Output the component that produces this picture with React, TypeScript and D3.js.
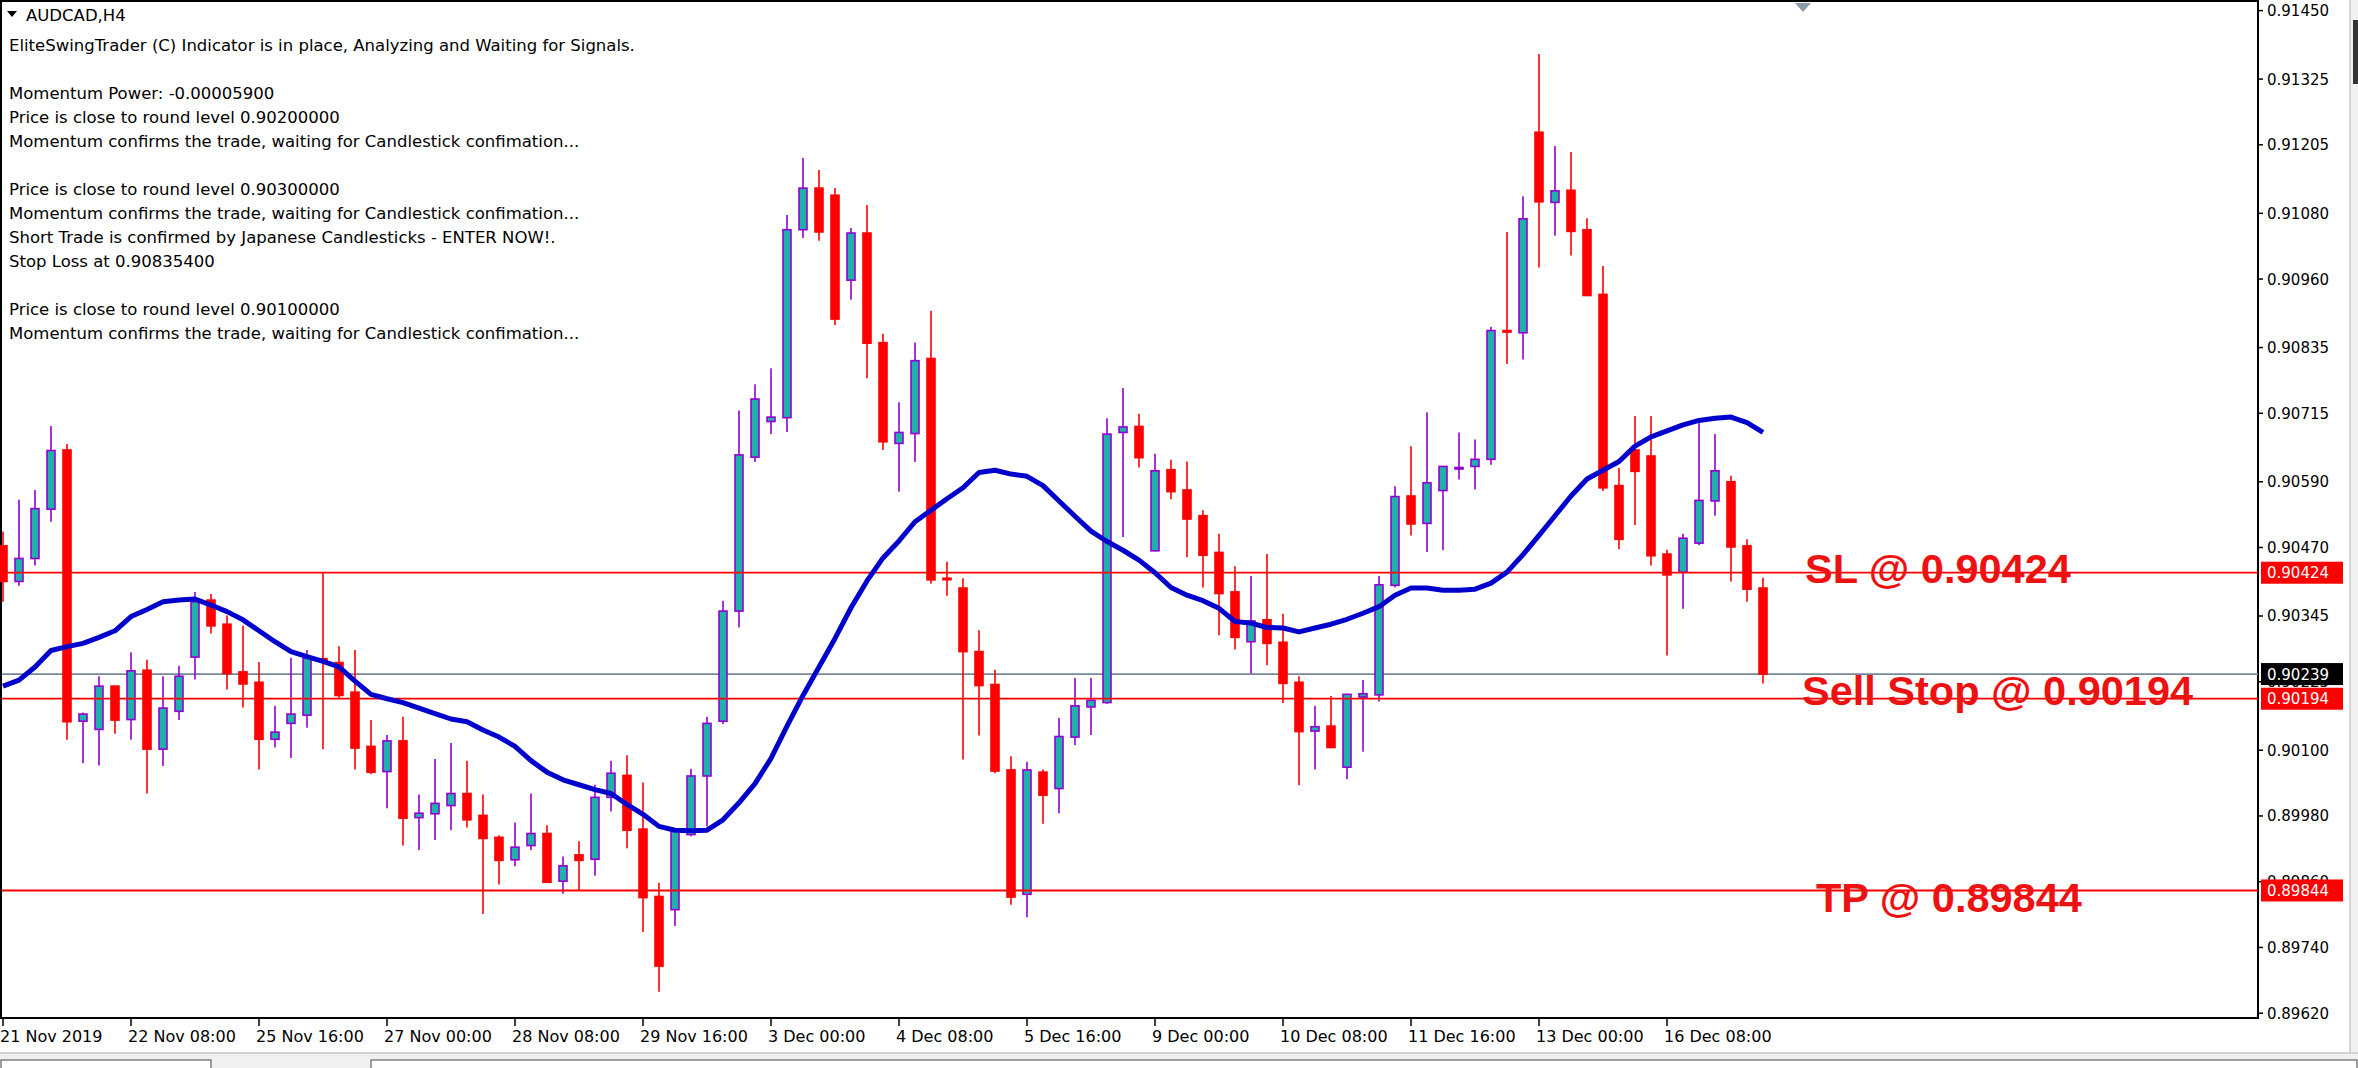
import React from "react";
import * as d3 from "d3";

const W = 2358;
const H = 1068;

const dateLabels = ["21 Nov 2019", "22 Nov 08:00", "25 Nov 16:00", "27 Nov 00:00", "28 Nov 08:00", "29 Nov 16:00", "3 Dec 00:00", "4 Dec 08:00", "5 Dec 16:00", "9 Dec 00:00", "10 Dec 08:00", "11 Dec 16:00", "13 Dec 00:00", "16 Dec 08:00"];
const barsPerLabel = 8;

const priceTicks = [0.9145, 0.91325, 0.91205, 0.9108, 0.9096, 0.90835, 0.90715, 0.9059, 0.9047, 0.90345, 0.90225, 0.901, 0.8998, 0.8986, 0.8974, 0.8962];

const opens = [0.90473, 0.90408, 0.9045, 0.9054, 0.90648, 0.90153, 0.90138, 0.90217, 0.90156, 0.90246, 0.90102, 0.90171, 0.9027, 0.90374, 0.9033, 0.90243, 0.90224, 0.9012, 0.90149, 0.90164, 0.90267, 0.9026, 0.90206, 0.90107, 0.90061, 0.90117, 0.89977, 0.89984, 0.89999, 0.90021, 0.89981, 0.89941, 0.899, 0.89926, 0.89948, 0.89861, 0.89909, 0.89901, 0.90014, 0.90054, 0.89956, 0.89833, 0.89809, 0.89946, 0.90053, 0.90153, 0.90354, 0.90635, 0.907, 0.90707, 0.9105, 0.91126, 0.91113, 0.90958, 0.91044, 0.90844, 0.9066, 0.90678, 0.90815, 0.90414, 0.90396, 0.9028, 0.9022, 0.90064, 0.89837, 0.9006, 0.9003, 0.90124, 0.90179, 0.90187, 0.9068, 0.90691, 0.90464, 0.90612, 0.90575, 0.90528, 0.90461, 0.90389, 0.90298, 0.90338, 0.90297, 0.90224, 0.90135, 0.90144, 0.90069, 0.90197, 0.90201, 0.90401, 0.90564, 0.90514, 0.90574, 0.90615, 0.90618, 0.90631, 0.90866, 0.90862, 0.91228, 0.911, 0.91122, 0.9105, 0.90932, 0.90583, 0.90648, 0.90637, 0.90458, 0.90425, 0.90478, 0.90555, 0.9059, 0.90473, 0.90396];
const highs = [0.90499, 0.90557, 0.90575, 0.90692, 0.90659, 0.90169, 0.90235, 0.90218, 0.90279, 0.90265, 0.90235, 0.90254, 0.90389, 0.90385, 0.90346, 0.90327, 0.90261, 0.90181, 0.90269, 0.90283, 0.90424, 0.9029, 0.90283, 0.90155, 0.90128, 0.90161, 0.90019, 0.90084, 0.90113, 0.90081, 0.90019, 0.89945, 0.89968, 0.90021, 0.89963, 0.89906, 0.89934, 0.90037, 0.90081, 0.90091, 0.90041, 0.89858, 0.89954, 0.90066, 0.90161, 0.90373, 0.9072, 0.90768, 0.90797, 0.91077, 0.91181, 0.91159, 0.91126, 0.91053, 0.91095, 0.9086, 0.90735, 0.90844, 0.90902, 0.90444, 0.90414, 0.90319, 0.90247, 0.90089, 0.90079, 0.90065, 0.90159, 0.90232, 0.90232, 0.90706, 0.90761, 0.90714, 0.90641, 0.9063, 0.90627, 0.90538, 0.90495, 0.90436, 0.90418, 0.90458, 0.90349, 0.90235, 0.90181, 0.90199, 0.90203, 0.90228, 0.90418, 0.90582, 0.90655, 0.90717, 0.90619, 0.9068, 0.90667, 0.90873, 0.91046, 0.91111, 0.91371, 0.91203, 0.91192, 0.91071, 0.90984, 0.90615, 0.9071, 0.9071, 0.90466, 0.90495, 0.90704, 0.90677, 0.90601, 0.90485, 0.90415];
const lows = [0.90371, 0.904, 0.90437, 0.90517, 0.90119, 0.90076, 0.90072, 0.9013, 0.90119, 0.90021, 0.90071, 0.90155, 0.90229, 0.90313, 0.90211, 0.90178, 0.90065, 0.90105, 0.90086, 0.90141, 0.90102, 0.90195, 0.90065, 0.90056, 0.89994, 0.89926, 0.89918, 0.89936, 0.89954, 0.89959, 0.89801, 0.89855, 0.89888, 0.89918, 0.89858, 0.89838, 0.89844, 0.89871, 0.89988, 0.89921, 0.89768, 0.89659, 0.89779, 0.89943, 0.89961, 0.90148, 0.90324, 0.90626, 0.90677, 0.90681, 0.91035, 0.9103, 0.90876, 0.90922, 0.90779, 0.90648, 0.90572, 0.90626, 0.90404, 0.90382, 0.90083, 0.90127, 0.90058, 0.89818, 0.89795, 0.89966, 0.89985, 0.90109, 0.90128, 0.90185, 0.90489, 0.90616, 0.90463, 0.90558, 0.90452, 0.90397, 0.9031, 0.90284, 0.9024, 0.90255, 0.90186, 0.90036, 0.90065, 0.90104, 0.90047, 0.90097, 0.90189, 0.90397, 0.90492, 0.90462, 0.90465, 0.90594, 0.90576, 0.90621, 0.90805, 0.90813, 0.90981, 0.91039, 0.91003, 0.90929, 0.90573, 0.90467, 0.90511, 0.90437, 0.90273, 0.90358, 0.90474, 0.90528, 0.90408, 0.90371, 0.90222];
const closes = [0.90408, 0.9045, 0.90541, 0.90647, 0.90152, 0.90166, 0.90217, 0.90155, 0.90245, 0.90102, 0.90177, 0.90235, 0.90371, 0.90327, 0.9024, 0.90221, 0.9012, 0.90133, 0.90166, 0.90268, 0.90263, 0.902, 0.90104, 0.9006, 0.90117, 0.89976, 0.89985, 0.90003, 0.90021, 0.89973, 0.89939, 0.89899, 0.89923, 0.89948, 0.89859, 0.89889, 0.89899, 0.90014, 0.90058, 0.89954, 0.89831, 0.89706, 0.89953, 0.90053, 0.90149, 0.90354, 0.90639, 0.90741, 0.90708, 0.9105, 0.91126, 0.91046, 0.90887, 0.91044, 0.90843, 0.90663, 0.9068, 0.90811, 0.90411, 0.90413, 0.9028, 0.90218, 0.90062, 0.89832, 0.90064, 0.90018, 0.90125, 0.90181, 0.90191, 0.90677, 0.9069, 0.90634, 0.9061, 0.90572, 0.90522, 0.90456, 0.90386, 0.90306, 0.90336, 0.90295, 0.90222, 0.90134, 0.90143, 0.90105, 0.90202, 0.90203, 0.90402, 0.90563, 0.90513, 0.90588, 0.90618, 0.90616, 0.90631, 0.90866, 0.90865, 0.9107, 0.91101, 0.91121, 0.91047, 0.9093, 0.90579, 0.90485, 0.90609, 0.90455, 0.9042, 0.90487, 0.90556, 0.9061, 0.90471, 0.90394, 0.90239];
const maValues = [0.90217, 0.90228, 0.90252, 0.90282, 0.90289, 0.90295, 0.90306, 0.90318, 0.90344, 0.90357, 0.90371, 0.90374, 0.90376, 0.90365, 0.90353, 0.90338, 0.90318, 0.90298, 0.9028, 0.90271, 0.90262, 0.90252, 0.90226, 0.90202, 0.90194, 0.90187, 0.90177, 0.90167, 0.90157, 0.90152, 0.90137, 0.90124, 0.90107, 0.90081, 0.9006, 0.90046, 0.90037, 0.90028, 0.90021, 0.90001, 0.89983, 0.89961, 0.89954, 0.89953, 0.89954, 0.89973, 0.90004, 0.90039, 0.90085, 0.90144, 0.902, 0.90252, 0.90304, 0.9036, 0.90409, 0.90451, 0.90482, 0.90517, 0.90538, 0.90559, 0.90579, 0.90607, 0.90611, 0.90604, 0.906, 0.90583, 0.90555, 0.90527, 0.905, 0.90481, 0.90465, 0.90447, 0.90424, 0.90397, 0.90383, 0.90373, 0.90359, 0.90335, 0.90332, 0.90324, 0.90323, 0.90316, 0.90323, 0.9033, 0.90339, 0.9035, 0.90362, 0.90383, 0.90396, 0.90396, 0.90392, 0.90392, 0.90394, 0.90405, 0.90425, 0.90457, 0.90492, 0.90528, 0.90564, 0.90595, 0.90611, 0.90627, 0.90655, 0.90672, 0.90683, 0.90694, 0.90702, 0.90706, 0.90708, 0.90698, 0.9068];

const levelPrices = [0.90424, 0.90194, 0.89844];
const levelTexts = ["SL @ 0.90424", "Sell Stop @ 0.90194", "TP @ 0.89844"];
const currentPrice = 0.90239;

const symbolTitle = "AUDCAD,H4";
const infoLines = [
  "EliteSwingTrader (C) Indicator is in place, Analyzing and Waiting for Signals.",
  "",
  "Momentum Power: -0.00005900",
  "Price is close to round level 0.90200000",
  "Momentum confirms the trade, waiting for Candlestick confimation...",
  "",
  "Price is close to round level 0.90300000",
  "Momentum confirms the trade, waiting for Candlestick confimation...",
  "Short Trade is confirmed by Japanese Candlesticks - ENTER NOW!.",
  "Stop Loss at 0.90835400",
  "",
  "Price is close to round level 0.90100000",
  "Momentum confirms the trade, waiting for Candlestick confimation...",
];

const UP_FILL = "#20B2AA";
const UP_LINE = "#9400D3";
const DOWN = "#FF0000";
const MA_COLOR = "#0000CD";
const SMALL_FONT = "'DejaVu Sans', Verdana, sans-serif";
const BIG_FONT = "'Liberation Sans', Arial, sans-serif";

const labelStyle = [
  { x: 1805, dy: 10.5 },
  { x: 1802, dy: 6 },
  { x: 1816, dy: 21.5 },
];

export default function App() {
  const plotRight = 2258;
  const plotBottom = 1018;
  const x = d3.scaleLinear().domain([0, 110]).range([3, 1763]);
  const y = d3.scaleLinear().domain([0.8962, 0.9145]).range([1013.2, 10.6]);
  const fmt = d3.format(".5f");

  const maLine = d3
    .line<number>()
    .x((_, i) => x(i))
    .y((d) => y(d));

  const candles = opens.map((o, i) => {
    const c = closes[i];
    const h = highs[i];
    const l = lows[i];
    const cx = x(i);
    const up = c >= o;
    const top = y(Math.max(o, c));
    const bot = y(Math.min(o, c));
    const bh = Math.max(bot - top, 1.5);
    if (up) {
      return (
        <g key={i}>
          <line x1={cx} x2={cx} y1={y(h)} y2={y(l)} stroke={UP_LINE} strokeWidth={1.6} />
          <rect x={cx - 4} y={top} width={8} height={bh} fill={UP_FILL} stroke={UP_LINE} strokeWidth={1.6} />
        </g>
      );
    }
    return (
      <g key={i}>
        <line x1={cx} x2={cx} y1={y(h)} y2={y(l)} stroke={DOWN} strokeWidth={1.6} />
        <rect x={cx - 4.8} y={top - 0.8} width={9.6} height={bh + 1.6} fill={DOWN} />
      </g>
    );
  });

  return (
    <svg
      width={W}
      height={H}
      viewBox={`0 0 ${W} ${H}`}
      style={{ position: "absolute", left: 0, top: 0, background: "#fff" }}
    >
      <rect x={0} y={0} width={W} height={H} fill="#fff" />

      {/* plot frame */}
      <rect x={1} y={1} width={plotRight - 1} height={plotBottom - 1} fill="#fff" stroke="#000" strokeWidth={2} />

      {/* shift marker */}
      <path d="M1795,3 L1811,3 L1803,12 Z" fill="#8d9aa8" />

      {/* current price line */}
      <line x1={2} x2={plotRight} y1={y(currentPrice)} y2={y(currentPrice)} stroke="#778899" strokeWidth={1.8} />

      <g>{candles}</g>

      {levelPrices.map((p, i) => (
        <line key={i} x1={2} x2={plotRight} y1={y(p)} y2={y(p)} stroke={DOWN} strokeWidth={1.8} />
      ))}

      {/* moving average */}
      <path d={maLine(maValues) || ""} fill="none" stroke={MA_COLOR} strokeWidth={5} strokeLinejoin="round" />

      {/* big level labels */}
      {levelTexts.map((t, i) => (
        <text
          key={i}
          x={labelStyle[i].x}
          y={y(levelPrices[i]) + labelStyle[i].dy}
          fontFamily={BIG_FONT}
          fontWeight="bold"
          fontSize={41.5}
          fill="#EE1111"
        >
          {t}
        </text>
      ))}

      {/* info text */}
      <path d="M7,11 L17,11 L12,17 Z" fill="#000" />
      <text x={26} y={20.5} fontFamily={SMALL_FONT} fontSize={16.5} fill="#000">
        {symbolTitle}
      </text>
      {infoLines.map((t, i) => (
        <text key={i} x={9} y={45 + i * 24 + 6} fontFamily={SMALL_FONT} fontSize={16.5} fill="#000">
          {t}
        </text>
      ))}

      {/* right price axis */}
      {priceTicks.map((p, i) => (
        <g key={i}>
          <line x1={plotRight} x2={plotRight + 5} y1={y(p)} y2={y(p)} stroke="#000" strokeWidth={1.5} />
          <text x={plotRight + 9} y={y(p) + 5.5} fontFamily={SMALL_FONT} fontSize={15} fill="#000">
            {fmt(p)}
          </text>
        </g>
      ))}
      {levelPrices.map((p, i) => (
        <g key={i}>
          <rect x={plotRight + 3} y={y(p) - 11} width={82} height={22} fill={DOWN} />
          <text x={plotRight + 9} y={y(p) + 5.5} fontFamily={SMALL_FONT} fontSize={15} fill="#fff">
            {fmt(p)}
          </text>
        </g>
      ))}
      <rect x={plotRight + 3} y={y(currentPrice) - 11} width={82} height={22} fill="#000" />
      <text x={plotRight + 9} y={y(currentPrice) + 5.5} fontFamily={SMALL_FONT} fontSize={15} fill="#fff">
        {fmt(currentPrice)}
      </text>

      {/* bottom time axis */}
      {dateLabels.map((t, k) => {
        const tx = x(k * barsPerLabel);
        return (
          <g key={k}>
            <line x1={tx} x2={tx} y1={plotBottom} y2={plotBottom + 8} stroke="#000" strokeWidth={1.5} />
            <text x={tx - 3} y={1041.5} fontFamily={SMALL_FONT} fontSize={16} fill="#000">
              {t}
            </text>
          </g>
        );
      })}

      {/* window chrome */}
      <rect x={2350} y={0} width={8} height={1055} fill="#f0f0f0" />
      <line x1={2350} x2={2350} y1={0} y2={1055} stroke="#c8c8c8" strokeWidth={1.5} />
      <rect x={2353} y={20} width={5} height={64} fill="#333" />
      <rect x={0} y={1052} width={W} height={16} fill="#f0f0f0" />
      <line x1={0} x2={W} y1={1053} y2={1053} stroke="#c8c8c8" strokeWidth={1.5} />
      <rect x={1} y={1060} width={210} height={12} fill="#fff" stroke="#808080" strokeWidth={1.5} />
      <rect x={371} y={1060} width={1986} height={12} fill="#fff" stroke="#808080" strokeWidth={1.5} />
    </svg>
  );
}
